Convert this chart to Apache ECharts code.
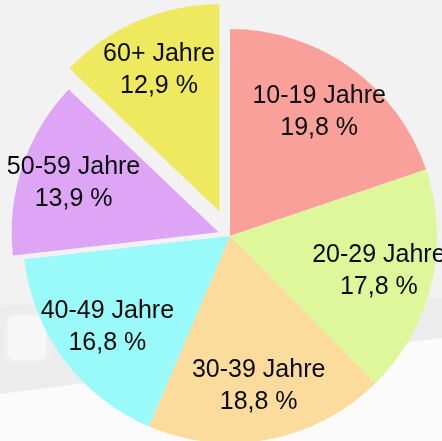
<!DOCTYPE html>
<html>
<head>
<meta charset="utf-8">
<script src="https://cdn.jsdelivr.net/npm/echarts@6/dist/echarts.min.js"></script>
<style>html,body{margin:0;padding:0;background:#f2f2f2;}#c{width:442px;height:441px;}</style>
</head>
<body>
<div id="c"></div>
<script>
const categories = ['10-19 Jahre', '20-29 Jahre', '30-39 Jahre', '40-49 Jahre', '50-59 Jahre', '60+ Jahre'];
const values = [19.8, 17.8, 18.8, 16.8, 13.9, 12.9];
const colors = ['#f9a09b', '#dff79b', '#fbdc9c', '#9af9f9', '#dea5f6', '#efe95f'];
const explodeOffsets = [0, 0, 0, 0, 12, 27];

const CX = 230, CY = 236, R = 207, LABEL_R = 150;
const total = values.reduce((a, b) => a + b, 0);
const fmtPct = v => v.toFixed(1).replace('.', ',') + ' %';

let cum = 0;
const mids = values.map(v => { const m = (cum + v / 2) / total * 2 * Math.PI; cum += v; return m; });

const mainIdx = [], explodedIdx = [];
explodeOffsets.forEach((d, i) => (d === 0 ? mainIdx : explodedIdx).push(i));
const groupsList = [[CX, CY, mainIdx]].concat(explodedIdx.map(i => [
  CX + explodeOffsets[i] * Math.sin(mids[i]), CY - explodeOffsets[i] * Math.cos(mids[i]), [i]
]));

const series = [];
groupsList.forEach(([cx, cy, vis]) => {
  series.push({
    type: 'pie', center: [cx, cy], radius: [0, R], startAngle: 90, clockwise: true,
    silent: true, animation: false, z: 2,
    label: { show: false }, labelLine: { show: false },
    itemStyle: { borderWidth: 0 },
    data: values.map((v, i) => ({
      name: categories[i], value: v,
      itemStyle: { color: vis.includes(i) ? colors[i] : 'rgba(0,0,0,0)' }
    }))
  });
  series.push({
    type: 'pie', center: [cx, cy], radius: [0, LABEL_R * 2], startAngle: 90, clockwise: true,
    silent: true, animation: false, z: 3, avoidLabelOverlap: false,
    itemStyle: { color: 'rgba(0,0,0,0)', borderWidth: 0 },
    labelLine: { show: false },
    label: {
      show: true, position: 'inside', color: '#0a0a0a',
      fontFamily: '"Liberation Sans", Arial, sans-serif',
      fontSize: 25, lineHeight: 32,
      formatter: p => p.name + '\n' + fmtPct(p.value)
    },
    data: values.map((v, i) => ({
      name: categories[i], value: v,
      label: { show: vis.includes(i) }
    }))
  });
});

const chart = echarts.init(document.getElementById('c'), null, { renderer: 'canvas' });
chart.setOption({
  backgroundColor: '#f2f2f2',
  animation: false,
  graphic: [
    { type: 'polygon', z: -10, silent: true, shape: { points: [[0, 305], [442, 298], [442, 338], [0, 394]] }, style: { fill: '#ececec' } },
    { type: 'rect', z: -9, silent: true, shape: { x: 8, y: 316, width: 38, height: 44, r: 6 }, style: { fill: '#f7f7f7', shadowBlur: 6, shadowColor: '#f7f7f7' } },
    { type: 'polygon', z: -9, silent: true, shape: { points: [[0, 394], [442, 338], [442, 441], [0, 441]] }, style: { fill: '#fbfbfb' } }
  ],
  series: series
});
</script>
</body>
</html>
